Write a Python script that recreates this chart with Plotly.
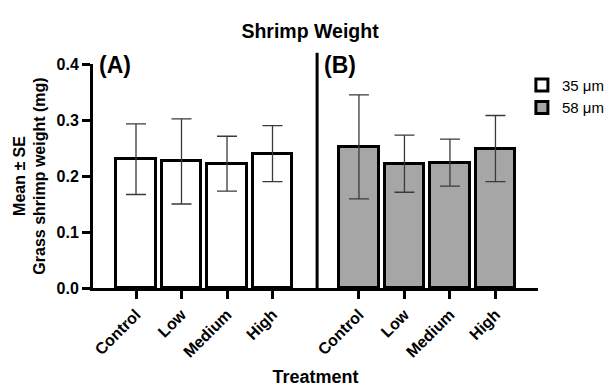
import plotly.graph_objects as go

categories = ["Control", "Low", "Medium", "High"]
series_names = ["35 μm", "58 μm"]
means_35 = [0.230, 0.226, 0.222, 0.240]
se_35 = [0.063, 0.076, 0.049, 0.050]
means_58 = [0.252, 0.222, 0.224, 0.249]
se_58 = [0.093, 0.051, 0.042, 0.059]
y_ticks = [0.0, 0.1, 0.2, 0.3, 0.4]
panel_labels = ["(A)", "(B)"]

FONT = "Liberation Sans, Arial, sans-serif"
group_offset = 4.9
fills = ["white", "#a6a6a6"]

fig = go.Figure()
all_x, all_text = [], []
for g, (name, means, ses) in enumerate(zip(series_names, [means_35, means_58], [se_35, se_58])):
    xs = [i + g * group_offset for i in range(len(categories))]
    all_x += xs
    all_text += [f"<b>{c}</b>" for c in categories]
    fig.add_trace(go.Bar(
        x=xs, y=means, name=name, width=0.86,
        marker=dict(color=fills[g], line=dict(color="black", width=3)),
        error_y=dict(type="data", array=ses, visible=True, color="#3a3a3a", thickness=1.3, width=10),
    ))

x_lo, x_hi = -0.945, 8.835
fig.update_layout(
    width=614, height=387,
    margin=dict(l=93, r=76, t=64, b=99, autoexpand=False),
    paper_bgcolor="white", plot_bgcolor="white",
    font=dict(family=FONT, color="black"),
    title=dict(text="<b>Shrimp Weight</b>", x=0.505, xanchor="center", y=0.92, yanchor="middle",
               font=dict(size=19.5, family=FONT, color="black")),
    showlegend=True,
    legend=dict(xref="container", yref="container", x=0.85, xanchor="left", y=0.751, yanchor="middle",
                font=dict(size=15, family=FONT), tracegroupgap=9, bgcolor="rgba(0,0,0,0)"),
    bargap=0,
)
fig.update_xaxes(
    range=[x_lo, x_hi], tickmode="array", tickvals=all_x, ticktext=all_text,
    tickangle=-45, ticks="outside", ticklen=8, tickwidth=2.5, tickcolor="black",
    showline=True, linecolor="black", linewidth=3, showgrid=False, zeroline=False,
    tickfont=dict(size=16, family=FONT, color="black"),
    title=dict(text="<b>Treatment</b>", font=dict(size=18, family=FONT), standoff=11),
)
fig.update_yaxes(
    range=[0, 0.4], tickmode="array", tickvals=y_ticks, ticktext=[f"<b>{v:.1f}</b>" for v in y_ticks],
    ticks="outside", ticklen=8, tickwidth=2.5, tickcolor="black",
    showline=True, linecolor="black", linewidth=3, showgrid=False, zeroline=False,
    tickfont=dict(size=16, family=FONT, color="black"),
    title=dict(text="<b>Mean ± SE<br>Grass shrimp weight (mg)</b>", font=dict(size=16, family=FONT), standoff=7),
)

# divider between panels
div_x = (3.98 - x_lo) / (x_hi - x_lo)
fig.add_shape(type="line", xref="paper", yref="paper", x0=div_x, x1=div_x, y0=0, y1=1.05,
              line=dict(color="black", width=3))

ann_x = [0.008, div_x + 0.012]
for lab, ax in zip(panel_labels, ann_x):
    fig.add_annotation(text=f"<b>{lab}</b>", xref="paper", yref="paper", x=ax, y=0.995,
                       xanchor="left", yanchor="middle", showarrow=False,
                       font=dict(size=23, family=FONT, color="black"))

fig.write_html("out.html")
